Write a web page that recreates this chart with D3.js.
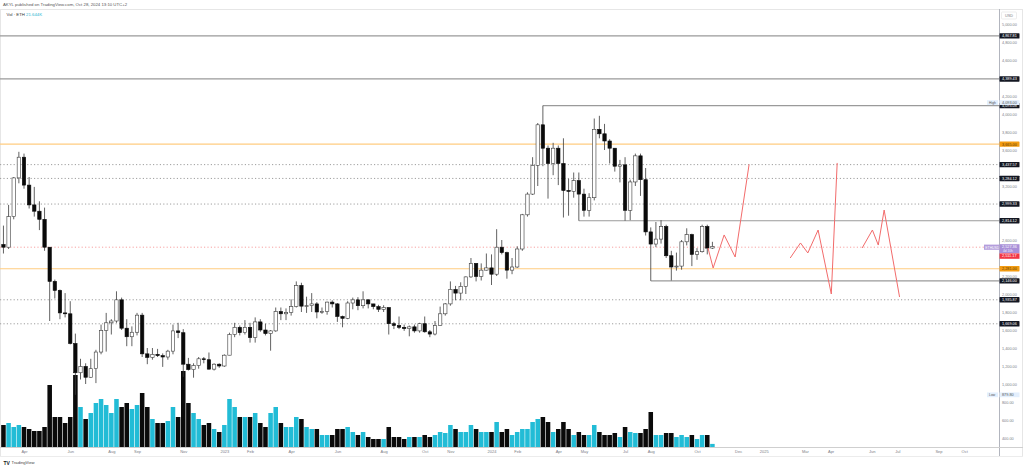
<!DOCTYPE html>
<html><head><meta charset="utf-8">
<script src="https://cdn.jsdelivr.net/npm/d3@7"></script>
<style>html,body{margin:0;padding:0;background:#fff;}svg{display:block;font-family:Arial,"Liberation Sans",sans-serif;}</style>
</head><body>
<svg id="c" width="1024" height="469"></svg>
<script>
// ---------- DATA ----------
const firstWeek = "2022-03-07";
const opens = [2550,2520,2860,3290,3520,3210,2990,2920,2830,2520,2140,2040,1790,1780,1450,1125,1195,1075,1170,1355,1595,1680,1700,1935,1620,1525,1575,1765,1335,1295,1330,1315,1300,1365,1590,1570,1220,1160,1205,1280,1270,1165,1220,1200,1320,1550,1630,1570,1630,1515,1690,1600,1560,1590,1805,1780,1795,1860,2095,1865,1870,1890,1800,1805,1910,1890,1750,1730,1900,1935,1870,1935,1890,1860,1830,1850,1670,1650,1630,1615,1635,1590,1670,1580,1555,1650,1780,1890,2050,2010,2085,2190,2340,2195,2265,2290,2220,2520,2460,2265,2300,2500,2880,3110,3430,3880,3620,3450,3620,3450,3150,3140,3260,3110,2930,3070,3830,3780,3700,3620,3420,3435,2930,3245,3535,3270,2690,2555,2610,2750,2425,2300,2310,2580,2660,2440,2470,2750,2510];
const highs = [2760,2990,3300,3580,3560,3300,3190,3030,2960,2520,2160,2050,2010,1920,1560,1280,1230,1280,1380,1660,1790,1720,2030,1960,1720,1640,1790,1790,1400,1400,1390,1340,1380,1660,1680,1610,1290,1230,1300,1300,1350,1230,1230,1330,1570,1680,1650,1710,1680,1740,1720,1670,1600,1850,1850,1840,1940,2140,2125,1970,2010,1910,1850,1915,1930,1900,1760,1920,1960,1965,2030,1940,1890,1880,1875,1850,1690,1750,1660,1650,1660,1680,1750,1600,1700,1860,1900,2140,2090,2130,2195,2400,2340,2340,2450,2440,2720,2600,2470,2400,2530,2890,3130,3520,3900,4093,3650,3680,3650,3730,3280,3350,3350,3170,3120,3950,3980,3890,3720,3620,3490,3520,3270,3560,3560,3400,2740,2800,2820,2770,2480,2460,2600,2730,2670,2510,2770,2770,2580];
const lows = [2450,2500,2830,3230,3170,2950,2860,2710,2480,1700,1950,1720,1740,1440,880,1050,1000,1070,1010,1330,1360,1550,1680,1600,1420,1420,1540,1300,1220,1270,1300,1190,1270,1330,1510,1080,1150,1070,1170,1230,1160,1150,1180,1190,1320,1520,1540,1550,1460,1460,1580,1540,1370,1580,1710,1710,1760,1850,1800,1790,1800,1730,1780,1770,1850,1690,1630,1720,1830,1820,1840,1840,1830,1800,1800,1550,1610,1610,1590,1530,1570,1570,1570,1520,1540,1650,1760,1870,1930,1930,2000,2180,2140,2150,2260,2100,2200,2440,2170,2220,2290,2480,2860,3100,3200,3420,3060,3320,3210,2850,2870,3070,2814,2860,2860,3040,3730,3600,3450,3360,3240,2814,2820,3200,3090,2650,2146,2520,2560,2400,2150,2260,2270,2540,2310,2380,2460,2440,2500];
const closes = [2520,2860,3290,3520,3210,2990,2920,2830,2520,2140,2040,1790,1780,1450,1125,1195,1075,1170,1355,1595,1680,1700,1935,1620,1525,1575,1765,1335,1295,1330,1315,1300,1365,1590,1570,1220,1160,1205,1280,1270,1165,1220,1200,1320,1550,1630,1570,1630,1515,1690,1600,1560,1590,1805,1780,1795,1860,2095,1865,1870,1890,1800,1805,1910,1890,1750,1730,1900,1935,1870,1935,1890,1860,1830,1850,1670,1650,1630,1615,1635,1590,1670,1580,1555,1650,1780,1890,2050,2010,2085,2190,2340,2195,2265,2290,2220,2520,2460,2265,2300,2500,2880,3110,3430,3880,3620,3450,3620,3450,3150,3140,3260,3110,2930,3070,3830,3780,3700,3620,3420,3435,2930,3245,3535,3270,2690,2555,2610,2750,2425,2300,2310,2580,2660,2440,2470,2750,2510,2527];
const volumesK = [154,168,140,154,140,126,112,112,140,434,210,210,168,210,504,280,196,238,308,336,294,238,336,280,308,266,294,378,280,196,168,168,182,280,210,532,308,238,196,154,168,126,105,154,336,280,210,210,210,238,168,140,238,280,168,140,140,210,196,140,126,126,84,84,84,126,126,140,105,84,105,70,56,56,56,140,70,70,56,70,70,70,84,70,84,105,98,154,126,105,105,154,126,105,105,105,175,105,126,84,105,126,126,175,196,210,175,105,126,175,126,84,105,84,84,154,105,84,84,98,70,140,105,98,98,126,245,84,84,98,98,70,84,70,84,56,84,84,21.644];

const solidLevelPrices = [4867.81, 4389.43, 4093.08, 2814.12, 2146.00];
const solidLevelStarts = [null, null, "2024-03-11", "2024-04-29", "2024-08-05"];
const dottedLevelPrices = [3437.57, 3284.12, 2999.33, 1935.87, 1669.06];
const orangeLevelPrices = [3665.00, 2281.00];
const lastPrice = 2520.00;
const highPrice = 4093.00, lowPrice = 879.80;

const projA_dates = ["2024-10-22","2024-10-29","2024-11-13","2024-11-28","2024-12-17"];
const projA_prices = [2511, 2289, 2656, 2411, 3440];
const projB_dates = ["2025-02-11","2025-02-25","2025-03-07","2025-03-21","2025-04-08","2025-04-16"];
const projB_prices = [2400, 2567, 2456, 2711, 2000, 3456];
const projC_dates = ["2025-05-20","2025-06-03","2025-06-11","2025-06-19","2025-07-10"];
const projC_prices = [2511, 2711, 2544, 2933, 1967];

const timeTickDates = ["2022-04-04","2022-06-06","2022-08-01","2022-09-05","2022-11-07","2023-01-02","2023-02-06","2023-04-03","2023-06-05","2023-08-07","2023-10-02","2023-11-06","2024-01-01","2024-02-05","2024-04-01","2024-05-06","2024-07-01","2024-08-05","2024-10-07","2024-12-02","2025-01-06","2025-03-03","2025-04-07","2025-06-02","2025-07-07","2025-09-01","2025-10-06"];
const timeTickLabels = ["Apr","Jun","Aug","Sep","Nov","2023","Feb","Apr","Jun","Aug","Oct","Nov","2024","Feb","Apr","May","Jul","Aug","Oct","Dec","2025","Mar","Apr","Jun","Jul","Sep","Oct"];
const priceTicks = d3.range(400, 5001, 200);

// ---------- CHART ----------
const svg = d3.select("#c");
const plotR = 999, plotT = 9, plotB = 447;
const parse = s => new Date(s + "T00:00:00Z");
const x = d3.scaleTime().domain([parse("2022-04-04"), parse("2024-10-07")]).range([24, 697]);
const y = d3.scaleLinear().domain([400, 5000]).range([438, 24]);
const vy = d3.scaleLinear().domain([0, 700]).range([plotB, plotB - 100]);
const start = parse(firstWeek);
const bars = opens.map((o, i) => ({d: d3.utcDay.offset(start, 7 * i), o, h: highs[i], l: lows[i], c: closes[i], v: volumesK[i]}));
const step = x(parse("2022-04-11")) - x(parse("2022-04-04"));

svg.append("rect").attr("width", 1024).attr("height", 469).attr("fill", "#fff");
svg.append("defs").append("clipPath").attr("id", "pc").append("rect")
  .attr("x", 0).attr("y", plotT).attr("width", plotR).attr("height", plotB - plotT);

// frame
svg.append("rect").attr("x", 0.5).attr("y", plotT + 0.5).attr("width", 1022).attr("height", 447)
  .attr("fill", "none").attr("stroke", "#e6e6e6").attr("stroke-width", 1);

const g = svg.append("g").attr("clip-path", "url(#pc)");

// volume
g.append("g").selectAll("rect").data(bars).join("rect")
  .attr("x", d => x(d.d) - step / 2 + 0.3).attr("width", step - 0.6)
  .attr("y", d => vy(d.v)).attr("height", d => plotB - vy(d.v))
  .attr("fill", d => d.c >= d.o ? "#22bcd6" : "#0a0a0a");

// levels
solidLevelPrices.forEach((p, i) => {
  const x0 = solidLevelStarts[i] ? x(parse(solidLevelStarts[i])) : 0;
  g.append("line").attr("x1", x0).attr("x2", plotR).attr("y1", y(p)).attr("y2", y(p))
    .attr("stroke", "#9a9a9a").attr("stroke-width", 1.2);
});
dottedLevelPrices.forEach(p => {
  g.append("line").attr("x1", 0).attr("x2", plotR).attr("y1", y(p)).attr("y2", y(p))
    .attr("stroke", "#9e9e9e").attr("stroke-width", 1).attr("stroke-dasharray", "1.2,2.2");
});
orangeLevelPrices.forEach(p => {
  g.append("line").attr("x1", 0).attr("x2", plotR).attr("y1", y(p)).attr("y2", y(p))
    .attr("stroke", "#ffcc80").attr("stroke-width", 1.1);
});
g.append("line").attr("x1", 0).attr("x2", plotR).attr("y1", y(lastPrice)).attr("y2", y(lastPrice))
  .attr("stroke", "#f7a1a1").attr("stroke-width", 1).attr("stroke-dasharray", "1.2,2.2");

// candles
const cg = g.append("g");
cg.selectAll("line").data(bars).join("line")
  .attr("x1", d => x(d.d)).attr("x2", d => x(d.d))
  .attr("y1", d => y(d.h)).attr("y2", d => y(d.l))
  .attr("stroke", "#3a3a3a").attr("stroke-width", 0.8);
cg.selectAll("rect").data(bars).join("rect")
  .attr("x", d => x(d.d) - 1.7).attr("width", 3.4)
  .attr("y", d => y(Math.max(d.o, d.c)))
  .attr("height", d => Math.max(0.8, Math.abs(y(d.o) - y(d.c))))
  .attr("fill", d => d.c >= d.o ? "#ffffff" : "#0a0a0a")
  .attr("stroke", d => d.c >= d.o ? "#3a3a3a" : "#0a0a0a").attr("stroke-width", 0.6);

// projections
const line = d3.line().x(d => x(parse(d[0]))).y(d => y(d[1]));
[[projA_dates, projA_prices], [projB_dates, projB_prices], [projC_dates, projC_prices]].forEach(([ds, ps]) => {
  g.append("path").attr("d", line(ds.map((d, i) => [d, ps[i]])))
    .attr("fill", "none").attr("stroke", "#f26b6b").attr("stroke-width", 1);
});

// axes lines
svg.append("line").attr("x1", plotR + 0.5).attr("x2", plotR + 0.5).attr("y1", plotT).attr("y2", 456)
  .attr("stroke", "#b2b5be").attr("stroke-width", 1);
svg.append("line").attr("x1", 0).attr("x2", 1023).attr("y1", plotB + 0.5).attr("y2", plotB + 0.5)
  .attr("stroke", "#cfcfcf").attr("stroke-width", 1);
svg.append("line").attr("x1", 0).attr("x2", 1023).attr("y1", 456.5).attr("y2", 456.5)
  .attr("stroke", "#ececec").attr("stroke-width", 1);

// price axis
const boxes = [];
solidLevelPrices.concat(dottedLevelPrices).forEach(p => boxes.push({p, t: d3.format(",.2f")(p), bg: "#131722", fg: "#fff"}));
orangeLevelPrices.forEach(p => boxes.push({p, t: d3.format(",.2f")(p), bg: "#f39c12", fg: "#5a3a00"}));
const avoidY = boxes.map(b => y(b.p)).concat([y(lastPrice), y(lastPrice) + 8]);
const yAxis = d3.axisRight(y).tickValues(priceTicks.filter(p => avoidY.every(a => Math.abs(y(p) - a) > 4.5)))
  .tickSize(0).tickPadding(3).tickFormat(d3.format(",.2f"));
const ya = svg.append("g").attr("transform", `translate(${plotR},0)`).call(yAxis);
ya.select(".domain").remove();
ya.selectAll("text").attr("font-size", 3.8).attr("fill", "#7b7e87").attr("font-family", "Arial");

const bw = 20, bh = 5.4;
boxes.forEach(b => {
  const cy = y(b.p);
  svg.append("rect").attr("x", plotR + 0.5).attr("y", cy - bh / 2).attr("width", bw).attr("height", bh).attr("fill", b.bg).attr("rx", 0.6);
  svg.append("text").attr("x", plotR + 3).attr("y", cy + 1.4).attr("font-size", 3.8).attr("fill", b.fg).text(b.t);
});
// last price (purple) + red
const ly = y(lastPrice);
svg.append("rect").attr("x", 984).attr("y", ly - 2.6).attr("width", 15).attr("height", 5.2).attr("fill", "#b39ddb");
svg.append("text").attr("x", 985.3).attr("y", ly + 1.3).attr("font-size", 3.4).attr("fill", "#fff").text("ETHUSD");
svg.append("rect").attr("x", plotR + 0.5).attr("y", ly - 3).attr("width", bw).attr("height", 9).attr("fill", "#a98fd8");
svg.append("text").attr("x", plotR + 3).attr("y", ly + 1).attr("font-size", 3.8).attr("fill", "#fff").text(d3.format(",.2f")(2527.36));
svg.append("text").attr("x", plotR + 4).attr("y", ly + 5).attr("font-size", 3.2).attr("fill", "#f3eefc").text("4d 10h");
svg.append("rect").attr("x", plotR + 0.5).attr("y", ly + 6.2).attr("width", bw).attr("height", bh).attr("fill", "#f23645");
svg.append("text").attr("x", plotR + 3).attr("y", ly + 10.2).attr("font-size", 3.8).attr("fill", "#fff").text(d3.format(",.2f")(2511.17));

// High / Low labels
[[highPrice, "High", -3], [lowPrice, "Low", 0]].forEach(([p, t, dy]) => {
  const cy = y(p) + dy;
  svg.append("rect").attr("x", 987).attr("y", cy - 2.4).attr("width", 11).attr("height", 4.8).attr("fill", "#e3effd");
  svg.append("text").attr("x", 989).attr("y", cy + 1.3).attr("font-size", 3.4).attr("fill", "#555").text(t);
  svg.append("rect").attr("x", plotR + 0.5).attr("y", cy - 2.4).attr("width", bw).attr("height", 4.8).attr("fill", "#e3effd");
  svg.append("text").attr("x", plotR + 3).attr("y", cy + 1.3).attr("font-size", 3.8).attr("fill", "#555").text(d3.format(",.2f")(p));
});

// USD box
svg.append("rect").attr("x", 1001.5).attr("y", 12).attr("width", 15).attr("height", 7).attr("fill", "#fff").attr("stroke", "#e0e0e0").attr("stroke-width", 0.6).attr("rx", 1);
svg.append("text").attr("x", 1009).attr("y", 16.8).attr("text-anchor", "middle").attr("font-size", 3.8).attr("fill", "#7b7e87").text("USD");

// time axis
const xAxis = d3.axisBottom(x).tickValues(timeTickDates.map(parse)).tickSize(0).tickPadding(3)
  .tickFormat((d, i) => timeTickLabels[i]);
const xa = svg.append("g").attr("transform", `translate(0,${plotB})`).call(xAxis);
xa.select(".domain").remove();
xa.selectAll("text").attr("font-size", 4).attr("fill", "#7b7e87").attr("font-family", "Arial");

// header
svg.append("text").attr("x", 3).attr("y", 6.3).attr("font-size", 4.3).attr("fill", "#555")
  .text("AKYL published on TradingView.com, Oct 28, 2024 13:10 UTC+2");
const hv = svg.append("text").attr("x", 6.5).attr("y", 15.8).attr("font-size", 4.3).attr("fill", "#333");
hv.append("tspan").text("Vol · ETH  ");
hv.append("tspan").attr("fill", "#22ab94").attr("fill", "#1fb4cf").text("21.644K");

// TradingView logo
svg.append("text").attr("x", 3.5).attr("y", 464.5).attr("font-size", 5).attr("font-weight", "bold").attr("fill", "#131722").text("TV");
svg.append("text").attr("x", 11.5).attr("y", 464.3).attr("font-size", 4.2).attr("fill", "#444").text("TradingView");
</script>
</body></html>
